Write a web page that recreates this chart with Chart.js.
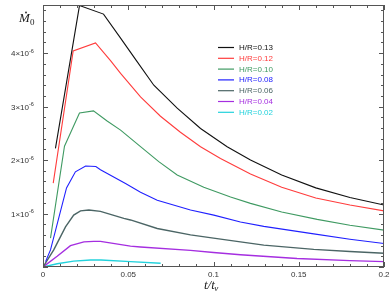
<!DOCTYPE html>
<html>
<head>
<meta charset="utf-8">
<script src="https://cdn.jsdelivr.net/npm/chart.js@4.4.1/dist/chart.umd.min.js"></script>
<style>
  html, body { margin: 0; padding: 0; background: #fff; }
  #wrap { width: 390px; height: 293px; }
</style>
</head>
<body>
<div id="wrap"><canvas id="mychart" width="390" height="293"></canvas></div>
<script>
// 読み取った値 (Mdot は 1e-6 単位)
const labels = ['H/R=0.13', 'H/R=0.12', 'H/R=0.10', 'H/R=0.08', 'H/R=0.06', 'H/R=0.04', 'H/R=0.02'];
const colors = ['#111111', '#ff3c3c', '#3f9a62', '#2020ff', '#4b6565', '#a52ee0', '#22d2dc'];

const t13 = [0.0073, 0.0214, 0.0355, 0.0455, 0.0552, 0.065, 0.0787, 0.0924, 0.108, 0.1217, 0.14, 0.16, 0.18, 0.2];
const m13 = [2.22, 4.89, 4.73, 4.28, 3.84, 3.40, 2.97, 2.59, 2.25, 2.00, 1.72, 1.48, 1.30, 1.16];

const t12 = [0.006, 0.0177, 0.0308, 0.0396, 0.0455, 0.0572, 0.0689, 0.0806, 0.0924, 0.1041, 0.1217, 0.14, 0.16, 0.18, 0.2];
const m12 = [1.57, 4.04, 4.19, 3.86, 3.62, 3.18, 2.82, 2.52, 2.25, 2.03, 1.74, 1.49, 1.29, 1.16, 1.05];

const t10 = [0.0044, 0.0126, 0.0214, 0.0296, 0.0376, 0.0455, 0.0572, 0.0679, 0.0787, 0.0943, 0.11, 0.1217, 0.14, 0.1608, 0.18, 0.2];
const m10 = [0.54, 2.26, 2.88, 2.92, 2.73, 2.56, 2.25, 1.97, 1.72, 1.49, 1.31, 1.19, 1.03, 0.89, 0.78, 0.69];

const t08 = [0.0015, 0.0044, 0.0138, 0.019, 0.025, 0.031, 0.0337, 0.0484, 0.0572, 0.067, 0.0865, 0.1002, 0.1158, 0.1295, 0.1588, 0.18, 0.2];
const m08 = [0.10, 0.32, 1.48, 1.78, 1.89, 1.88, 1.82, 1.56, 1.40, 1.25, 1.065, 0.97, 0.84, 0.76, 0.62, 0.52, 0.44];

const t06 = [0, 0.0063, 0.0132, 0.018, 0.022, 0.0269, 0.0337, 0.0474, 0.0513, 0.067, 0.0865, 0.1, 0.1158, 0.1295, 0.1588, 0.18, 0.2];
const m06 = [0, 0.32, 0.75, 0.97, 1.05, 1.065, 1.04, 0.91, 0.88, 0.72, 0.60, 0.54, 0.47, 0.41, 0.33, 0.29, 0.256];

const t04 = [0, 0.0083, 0.0161, 0.024, 0.0298, 0.0337, 0.0513, 0.0572, 0.0865, 0.1, 0.1158, 0.149, 0.18, 0.2];
const m04 = [0, 0.20, 0.40, 0.47, 0.48, 0.48, 0.39, 0.375, 0.31, 0.27, 0.23, 0.16, 0.12, 0.10];

const t02 = [0, 0.0083, 0.018, 0.0279, 0.034, 0.0513, 0.069];
const m02 = [0, 0.06, 0.11, 0.13, 0.13, 0.10, 0.07];

// 目盛り
const xTicks = [0, 0.05, 0.1, 0.15, 0.2];
const xTickLabels = ['0', '0.05', '0.1', '0.15', '0.2'];
const yTicks = [1, 2, 3, 4];
const yTickLabels = ['1×10', '2×10', '3×10', '4×10'];

const series = [[t13, m13], [t12, m12], [t10, m10], [t08, m08], [t06, m06], [t04, m04], [t02, m02]];

function toPoints(ts, ms) {
    return ts.map((t, i) => ({ x: t, y: ms[i] }));
}

const datasets = series.map((s, i) => ({
    label: labels[i],
    data: toPoints(s[0], s[1]),
    borderColor: colors[i],
    borderWidth: (i >= 4) ? 1.4 : 1.1,
    pointRadius: 0,
    tension: 0,
    fill: false
}));

// 枠・目盛り・凡例を自前で描く
const decor = {
    id: 'decor',
    afterDraw(chart) {
        const c = chart.ctx;
        const a = chart.chartArea;
        const xs = chart.scales.x;
        const ys = chart.scales.y;
        c.save();
        c.strokeStyle = '#555';
        c.lineWidth = 1;
        c.strokeRect(a.left + 0.5, a.top + 0.5, a.right - a.left - 1, a.bottom - a.top - 1);

        c.beginPath();
        for (let k = 0; k <= 20; k++) {
            const px = Math.round(xs.getPixelForValue(k * 0.01)) + 0.5;
            const len = (k % 5 === 0) ? 5 : 3;
            c.moveTo(px, a.bottom); c.lineTo(px, a.bottom - len);
            c.moveTo(px, a.top); c.lineTo(px, a.top + len);
        }
        for (let k = 0; k <= 24; k++) {
            const py = Math.round(ys.getPixelForValue(k * 0.2)) + 0.5;
            const len = (k % 5 === 0) ? 5 : 3;
            c.moveTo(a.left, py); c.lineTo(a.left + len, py);
            c.moveTo(a.right, py); c.lineTo(a.right - len, py);
        }
        c.stroke();

        c.fillStyle = '#333';
        c.font = '8px "Liberation Sans", Arial, sans-serif';
        c.textAlign = 'center';
        c.textBaseline = 'alphabetic';
        xTicks.forEach((v, i) => {
            c.fillText(xTickLabels[i], xs.getPixelForValue(v), a.bottom + 10);
        });
        yTicks.forEach((v, i) => {
            const py = ys.getPixelForValue(v);
            c.font = '5.5px "Liberation Sans", Arial, sans-serif';
            c.textAlign = 'left';
            c.fillText('-6', 29, py - 0.5);
            c.font = '8px "Liberation Sans", Arial, sans-serif';
            c.textAlign = 'right';
            c.fillText(yTickLabels[i], 29, py + 3);
        });

        // 軸タイトル
        c.fillStyle = '#222';
        c.textAlign = 'left';
        c.font = 'italic 13px "Liberation Serif", "DejaVu Serif", serif';
        c.fillText('M', 19, 22);
        c.beginPath();
        c.arc(26, 12.5, 0.9, 0, Math.PI * 2);
        c.fill();
        c.font = '9px "Liberation Serif", "DejaVu Serif", serif';
        c.fillText('0', 30, 25);

        c.font = 'italic 13px "Liberation Serif", "DejaVu Serif", serif';
        c.fillText('t/t', 204, 289);
        const w = c.measureText('t/t').width;
        c.font = 'italic 9px "Liberation Serif", "DejaVu Serif", serif';
        c.fillText('ν', 204 + w - 0.5, 291);

        // 凡例
        c.font = '8px "Liberation Sans", Arial, sans-serif';
        labels.forEach((lab, i) => {
            const y = 47 + i * 10.8;
            c.strokeStyle = colors[i];
            c.lineWidth = 1.2;
            c.beginPath();
            c.moveTo(218, y + 0.5); c.lineTo(234, y + 0.5);
            c.stroke();
            c.fillStyle = colors[i];
            c.fillText(lab, 239, y + 3);
        });
        c.restore();
    }
};

const ctx = document.getElementById('mychart');
const lineChart = new Chart(ctx, {
    type: 'line',
    data: { datasets: datasets },
    options: {
        responsive: false,
        animation: false,
        layout: { padding: { left: 43, right: 6, top: 5, bottom: 26 } },
        plugins: { legend: { display: false }, tooltip: { enabled: false } },
        scales: {
            x: { type: 'linear', min: 0, max: 0.2, display: false },
            y: { type: 'linear', min: 0, max: 4.9, display: false }
        }
    },
    plugins: [decor]
});
</script>
</body>
</html>
